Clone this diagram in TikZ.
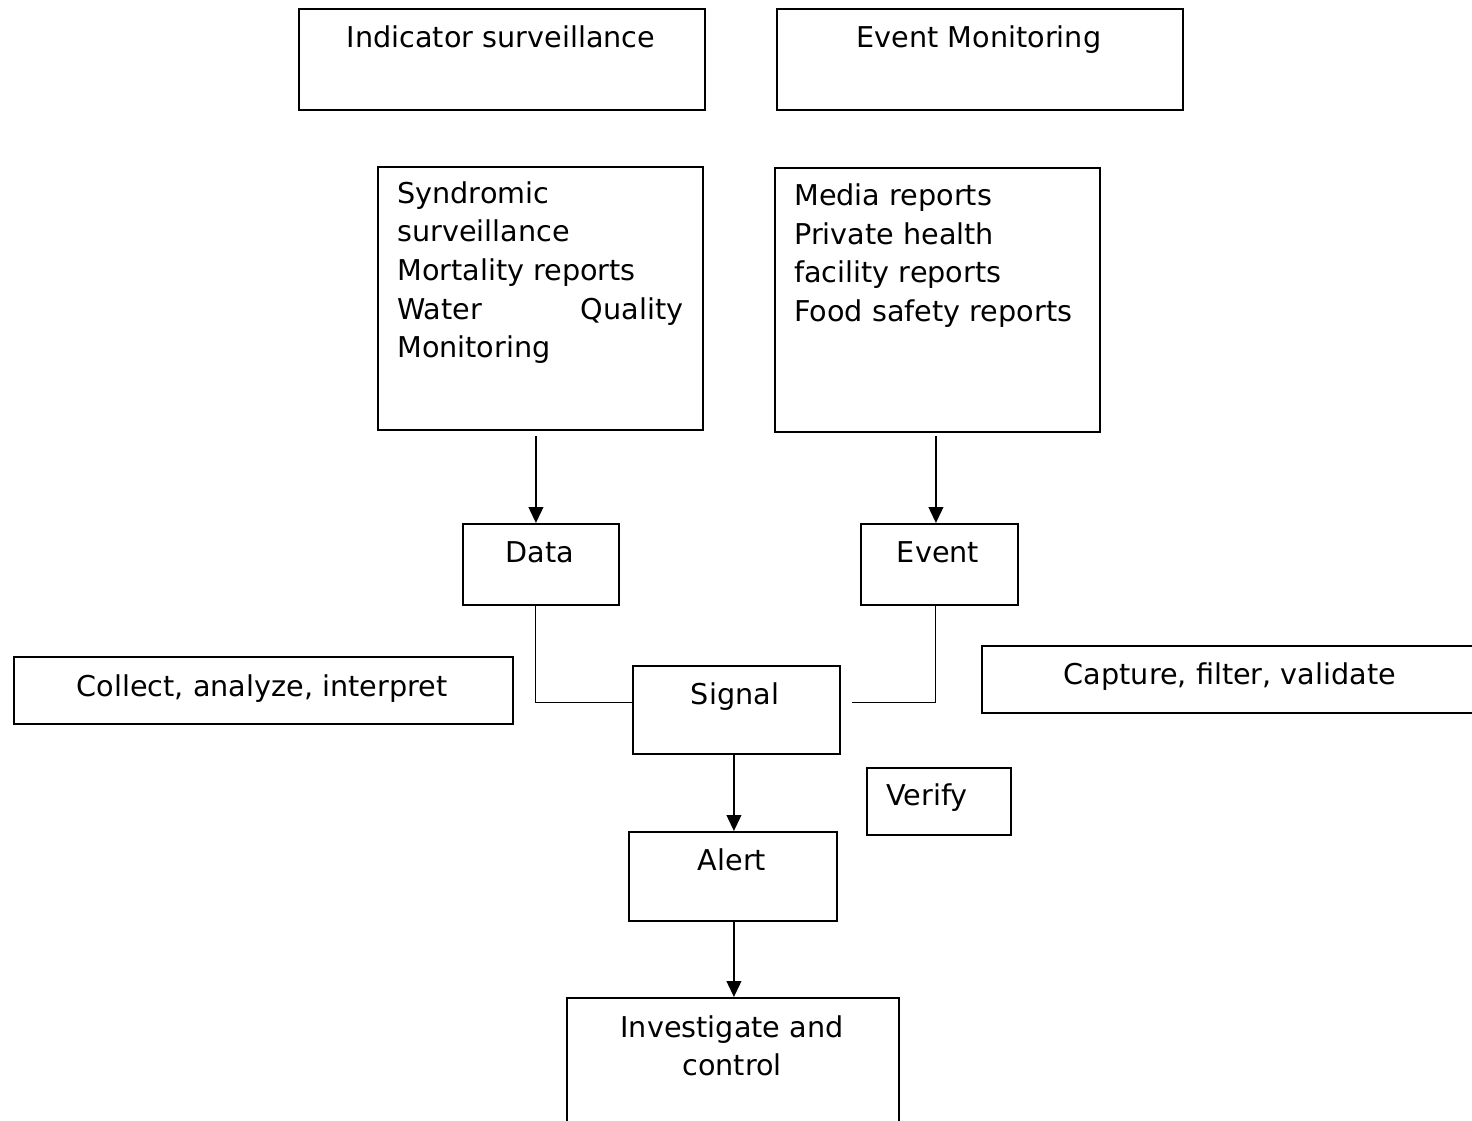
\documentclass[tikz,border=0pt]{standalone}
\usepackage{fontspec}
\setmainfont{DejaVu Sans}
\usetikzlibrary{arrows.meta,calc}
\tikzset{
  box/.style={draw=black, line width=1.4pt, rectangle, inner sep=0pt, anchor=north west},
  txt/.style={inner sep=0pt, anchor=base, font=\fontsize{21.5}{24}\selectfont},
  ltxt/.style={txt, anchor=base west},
  arr/.style={line width=1.5pt, -{Triangle[length=12pt,width=11pt]}},
  thin/.style={line width=0.8pt}
}
\begin{document}
\begin{tikzpicture}[x=0.75pt,y=-0.75pt]
\clip (0,0) rectangle (1472,1121);
\fill[white] (0,0) rectangle (1472,1121);
% boxes
\node[box, minimum width=406*0.75pt, minimum height=101*0.75pt] (ind) at (298,8) {};
\node[box, minimum width=406*0.75pt, minimum height=101*0.75pt] (evm) at (776,8) {};
\node[box, minimum width=325*0.75pt, minimum height=263*0.75pt] (syn) at (377,166) {};
\node[box, minimum width=325*0.75pt, minimum height=264*0.75pt] (med) at (774,167) {};
\node[box, minimum width=156*0.75pt, minimum height=81*0.75pt] (data) at (462,523) {};
\node[box, minimum width=157*0.75pt, minimum height=81*0.75pt] (event) at (860,523) {};
\node[box, minimum width=499*0.75pt, minimum height=67*0.75pt] (coll) at (13,656) {};
\node[box, minimum width=207*0.75pt, minimum height=88*0.75pt] (signal) at (632,665) {};
\node[box, minimum width=520*0.75pt, minimum height=67*0.75pt] (capt) at (981,645) {};
\node[box, minimum width=144*0.75pt, minimum height=67*0.75pt] (verify) at (866,767) {};
\node[box, minimum width=208*0.75pt, minimum height=89*0.75pt] (alert) at (628,831) {};
\node[box, minimum width=332*0.75pt, minimum height=160*0.75pt] (inv) at (566,997) {};
% texts
\node[txt] (tind) at (501,47) {Indicator surveillance};
\node[txt] (tevm) at (979,47) {Event Monitoring};
\node[ltxt] (s1) at (397,203) {Syndromic};
\node[ltxt] (s2) at (397,241) {surveillance};
\node[ltxt] (s3) at (397,280) {Mortality reports};
\node[ltxt, text width=286*0.75pt, align=left] (s4) at (397,319) {\hbox to 286\dimexpr 0.75pt\relax{Water\hfill Quality}};
\node[ltxt] (s5) at (397,357) {Monitoring};
\node[ltxt] (m1) at (794,205) {Media reports};
\node[ltxt] (m2) at (794,244) {Private health};
\node[ltxt] (m3) at (794,282) {facility reports};
\node[ltxt] (m4) at (794,321) {Food safety reports};
\node[txt] (tdata) at (540,562) {Data};
\node[txt] (tevent) at (938,562) {Event};
\node[txt] (tcoll) at (262,696) {Collect, analyze, interpret};
\node[txt] (tsig) at (735,704) {Signal};
\node[txt] (tcapt) at (1230,684) {Capture, filter, validate};
\node[ltxt] (tver) at (886,805) {Verify};
\node[txt] (talert) at (732,870) {Alert};
\node[txt] (tinv1) at (732,1037) {Investigate and};
\node[txt] (tinv2) at (732,1075) {control};
% connectors
\draw[arr] ($(syn.south)+(-4.5,5)$) -- ($(data.north)+(-5,0)$);
\draw[arr] ($(med.south)+(-1.5,3)$) -- ($(event.north)+(-3.5,0)$);
\draw[thin] ($(data.south)+(-5,0)$) |- ($(signal.west)+(0,-7)$);
\coordinate (sigR) at ($(signal.east)+(11,-7)$);
\draw[thin] ($(event.south)+(-3.5,0)$) |- (sigR);
\draw[arr] ($(signal.south)+(-2.5,0)$) -- ($(alert.north)+(1,0)$);
\draw[arr] ($(alert.south)+(1,0)$) -- ($(inv.north)+(1,0)$);
\end{tikzpicture}
\end{document}
